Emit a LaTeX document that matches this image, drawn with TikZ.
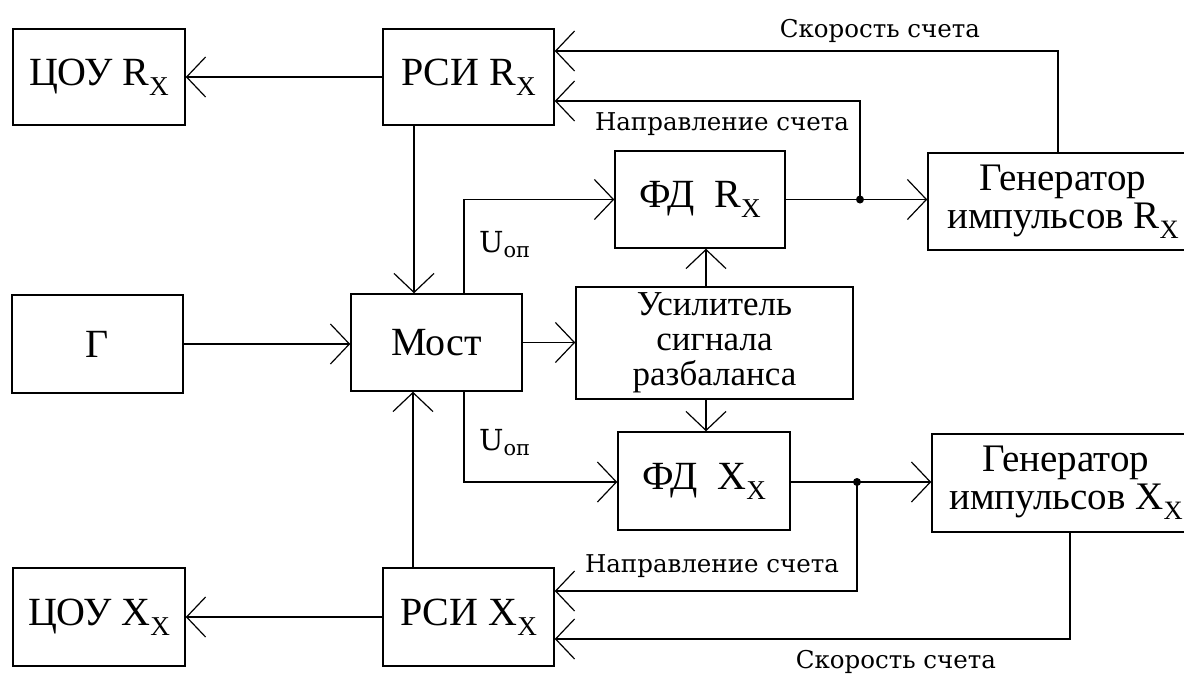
\documentclass[tikz,border=0pt]{standalone}
\usepackage{fontspec}
\setmainfont{Liberation Serif}
\newfontfamily\lblfont{DejaVu Serif}
\usetikzlibrary{arrows.meta,calc}
\newcommand\lowsub[1]{\raisebox{-0.25em}{\scalebox{0.68}{#1}}}
\begin{document}
\begin{tikzpicture}[x=1pt,y=-1pt,
 blk/.style={draw,line width=1.5pt,inner sep=0pt,align=center,font=\fontsize{40}{40}\selectfont},
 conn/.style={line width=1.3pt},
 arr/.style={conn,-{Straight Barb[length=19pt,width=40pt,line width=1.2pt]}},
 lbl/.style={font=\lblfont\fontsize{24.5}{24.5}\selectfont,inner sep=0pt},
 ulbl/.style={font=\lblfont\fontsize{29}{29}\selectfont,inner sep=0pt},
 jdot/.style={circle,fill,inner sep=0pt,minimum size=8pt}]
\useasboundingbox (0,0) rectangle (1184,675);
\clip (0,0) rectangle (1184,675);

% blocks
\node[blk,minimum width=172pt,minimum height=96pt] (cR) at (99,77) {ЦОУ R\lowsub{X}};
\node[blk,minimum width=171pt,minimum height=96pt] (rR) at (468.5,77) {РСИ R\lowsub{X}};
\node[blk,minimum width=170pt,minimum height=97pt] (fR) at (700,199.5) {ФД\ \ R\lowsub{X}};
\node[blk,minimum width=270pt,minimum height=97pt,font=\fontsize{39}{38}\selectfont] (gR) at (1063,201.5) {Генератор\\импульсов R\lowsub{X}};
\node[blk,minimum width=171pt,minimum height=98pt] (G) at (97.5,344) {Г};
\node[blk,minimum width=171pt,minimum height=97pt] (M) at (436.5,342.5) {Мост};
\node[blk,minimum width=277pt,minimum height=112pt,font=\fontsize{35}{35}\selectfont] (U) at (714.5,343) {Усилитель\\сигнала\\разбаланса};
\node[blk,minimum width=172pt,minimum height=98pt] (fX) at (704,481) {ФД\ \ X\lowsub{X}};
\node[blk,minimum width=268pt,minimum height=98pt,font=\fontsize{39}{38}\selectfont] (gX) at (1066,483) {Генератор\\импульсов X\lowsub{X}};
\node[blk,minimum width=172pt,minimum height=98pt] (cX) at (99,617) {ЦОУ X\lowsub{X}};
\node[blk,minimum width=171pt,minimum height=98pt] (rX) at (468.5,617) {РСИ X\lowsub{X}};

% helper coordinates
\coordinate (dR) at (860,199.5);
\coordinate (tR) at (1058,51);
\coordinate (nR) at (860,101);
\coordinate (uR) at (464,199.5);
\coordinate (uX) at (464,482);
\coordinate (dX) at (857,482);
\coordinate (nX) at (857,591);
\coordinate (sX) at (1070,639);
\coordinate (vR) at (414,0);
\coordinate (vU) at (706,0);
\coordinate (vX) at (413,0);

% connectors
\draw[arr] (rR.west) -- (cR.east);
\draw[arr] (gR.north -| tR) -- (tR) -- (rR.east |- tR);
\draw[arr] (dR) -- (nR) -- (rR.east |- nR);
\draw[arr] (fR.east |- dR) -- (gR.west |- dR);
\node[jdot] (jR) at (dR) {};
\draw[arr] (rR.south -| vR) -- (M.north -| vR);
\draw[arr] (M.north -| uR) -- (uR) -- (fR.west |- uR);
\draw[arr] (G.east) -- (M.west |- G.east);
\draw[arr] (M.east) -- (U.west |- M.east);
\draw[arr] (U.north -| vU) -- (fR.south -| vU);
\draw[arr] (U.south -| vU) -- (fX.north -| vU);
\draw[arr] (M.south -| uX) -- (uX) -- (fX.west |- uX);
\draw[arr] (fX.east |- dX) -- (gX.west |- dX);
\node[jdot] (jX) at (dX) {};
\draw[arr] (dX) -- (nX) -- (rX.east |- nX);
\draw[arr] (gX.south -| sX) -- (sX) -- (rX.east |- sX);
\draw[arr] (rX.north -| vX) -- (M.south -| vX);
\draw[arr] (rX.west) -- (cX.east |- rX.west);

% labels
\node[lbl,anchor=base] (ls1) at (880,37) {Скорость счета};
\node[lbl,anchor=base] (ln1) at (722,130) {Направление счета};
\node[ulbl,anchor=base west] (lu1) at (479,252) {U\raisebox{-0.2em}{\scalebox{0.72}{оп}}};
\node[ulbl,anchor=base west] (lu2) at (479,450) {U\raisebox{-0.2em}{\scalebox{0.72}{оп}}};
\node[lbl,anchor=base] (ln2) at (712,572) {Направление счета};
\node[lbl,anchor=base] (ls2) at (896,668) {Скорость счета};
\end{tikzpicture}
\end{document}
